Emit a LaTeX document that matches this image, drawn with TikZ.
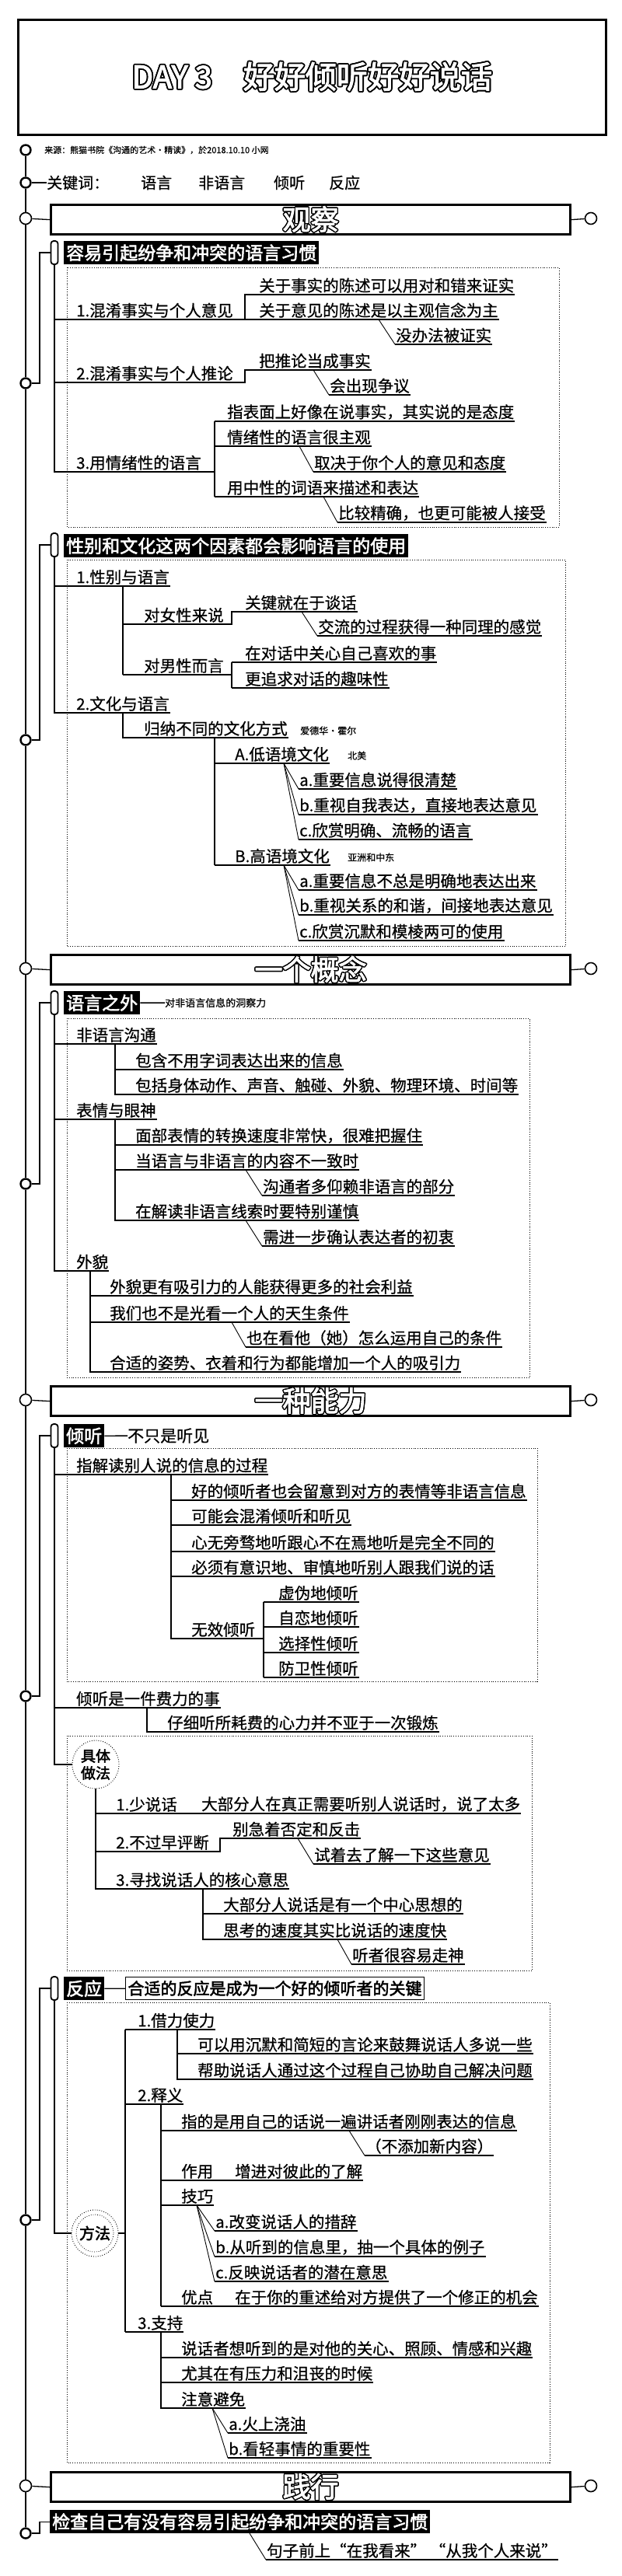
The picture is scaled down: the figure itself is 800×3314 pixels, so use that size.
\documentclass[tikz,border=0pt]{standalone}
\usepackage{fontspec}
\setmainfont{Noto Sans CJK SC}[FakeBold=0.6]
\newfontfamily\hvy{Noto Sans CJK SC}[FakeBold=2.5]
\usepackage{contour}
\contourlength{1.4pt}
\usetikzlibrary{shapes.geometric}
\tikzset{
  itm/.style={font=\fontsize{20.5}{24}\selectfont, anchor=south west, inner xsep=1pt, inner ysep=2pt},
  memo/.style={font=\fontsize{12}{14}\selectfont, anchor=west, inner sep=0pt},
  kw/.style={font=\fontsize{20}{24}\selectfont, anchor=west, inner sep=0pt},
  link/.style={line width=1.3pt},
  ul/.style={line width=1.4pt},
  ulb/.style={line width=2.8pt},
  slant/.style={line width=0.9pt},
  spine/.style={line width=2.8pt},
  dotframe/.style={dotted, line width=0.8pt},
  ring/.style={circle, draw, line width=2.4pt, minimum size=13pt, inner sep=0pt, fill=white},
  secring/.style={circle, draw, line width=1.6pt, minimum size=15pt, inner sep=0pt, fill=white,
    path picture={\fill (path picture bounding box.center) circle (2.8pt);}},
  secbox/.style={draw, line width=3.2pt, minimum width=668pt, minimum height=38pt, anchor=north west,
    inner sep=0pt, text=white, font={\hvy\fontsize{36}{38}\selectfont}},
  capsule/.style={draw, rounded corners=3.5pt, line width=1.8pt, minimum width=9pt, minimum height=30pt, inner sep=0pt, fill=white},
  hbar/.style={fill=black, text=white, anchor=north west, inner xsep=3pt, inner ysep=0pt, minimum height=30pt,
    font={\hvy\fontsize{23}{26}\selectfont}},
  keybox/.style={draw, line width=1pt, anchor=north west, inner xsep=3pt, inner ysep=0pt, minimum height=29pt,
    font={\hvy\fontsize{21}{24}\selectfont}},
  oval/.style={ellipse, draw, dotted, line width=0.9pt, minimum width=60pt, minimum height=62pt, inner sep=0pt,
    align=center, font={\hvy\fontsize{19}{22}\selectfont}},
  ripple/.style={circle, draw, dotted, line width=0.9pt, minimum size=60pt, inner sep=0pt, font={\hvy\fontsize{20}{24}\selectfont}}
}
\begin{document}
\begin{tikzpicture}[x=1pt,y=-1pt]
\useasboundingbox (0,0) rectangle (800,3314);
\fill[white] (0,0) rectangle (800,3314);

\node[draw, line width=2.6pt, minimum width=756pt, minimum height=148pt, anchor=north west, inner sep=0pt, text=white,
  font={\hvy\fontsize{40}{44}\selectfont}] (title) at (22,24) {\contourlength{1.8pt}\contour{black}{DAY 3\quad 好好倾听好好说话}};

\node[ring] (r0) at (33,193) {};
\node[memo, font=\fontsize{11}{13}\selectfont] (src) at (57,193) {来源：熊猫书院《沟通的艺术·精读》，於2018.10.10 小网};
\node[ring] (r1) at (33,235) {};
\node[kw] (kw) at (60,235) {关键词：};
\node[kw] (kw1) at (181,235) {语言};
\node[kw] (kw2) at (255,235) {非语言};
\node[kw] (kw3) at (352,235) {倾听};
\node[kw] (kw4) at (423,235) {反应};
\draw[link] (r1) -- (kw);

\node[secbox] (s1) at (64,262) {\contour{black}{观察}};
\node[secring] (sr1) at (33,281) {};
\node[secring] (sr1b) at (760,281) {};
\draw[link] (sr1) -- (s1.west);
\draw[link] (s1.east) -- (sr1b);

\node[capsule] (cA) at (70,325) {};
\node[hbar] (hA) at (82,310) {容易引起纷争和冲突的语言习惯};
\node[ring] (rA) at (33,493) {};
\coordinate (kA) at (51,493);
\draw[link] (rA) -- (kA) |- (cA);
\draw[dotframe] (86,344) rectangle (719,678);
\node[itm] (A1) at (97,411) {1.混淆事实与个人意见};
\coordinate (A1t) at (315,411);
\node[itm] (A11) at (332,379) {关于事实的陈述可以用对和错来证实};
\node[itm] (A12) at (332,411) {关于意见的陈述是以主观信念为主};
\coordinate (A12s) at (487,411);
\node[itm] (A121) at (508,443) {没办法被证实};
\draw[ul] (A1.south -| cA.south) -- (A1t) |- (A11.south east);
\draw[ul] (A1t) -- (A12.south east);
\draw[slant] (A12s) -- (A121.south west);
\draw[ul] (A121.south west) -- (A121.south east);
\node[itm] (A2) at (97,492) {2.混淆事实与个人推论};
\coordinate (A2t) at (315,492);
\node[itm] (A21) at (332,476) {把推论当成事实};
\coordinate (A21s) at (403,476);
\node[itm] (A211) at (423,508) {会出现争议};
\draw[ul] (A2.south -| cA.south) -- (A2t) |- (A21.south east);
\draw[slant] (A21s) -- (A211.south west);
\draw[ul] (A211.south west) -- (A211.south east);
\node[itm] (A3) at (97,607) {3.用情绪性的语言};
\coordinate (A3t) at (276,607);
\node[itm] (A31) at (291,542) {指表面上好像在说事实，其实说的是态度};
\node[itm] (A32) at (291,574) {情绪性的语言很主观};
\node[itm] (A33) at (291,639) {用中性的词语来描述和表达};
\coordinate (A32s) at (385,574);
\node[itm] (A321) at (403,607) {取决于你个人的意见和态度};
\coordinate (A33s) at (416,639);
\node[itm] (A331) at (434,672) {比较精确，也更可能被人接受};
\draw[ul] (cA) -- (A3.south -| cA.south) -- (A3t);
\draw[ul] (A31.south -| A3t) -- (A33.south -| A3t);
\draw[ul] (A31.south -| A3t) -- (A31.south east);
\draw[ul] (A32.south -| A3t) -- (A32.south east);
\draw[ulb] (A33.south -| A3t) -- (A33.south east);
\draw[slant] (A32s) -- (A321.south west);
\draw[ul] (A321.south west) -- (A321.south east);
\draw[slant] (A33s) -- (A331.south west);
\draw[ul] (A331.south west) -- (A331.south east);

\node[capsule] (cB) at (70,701) {};
\node[hbar] (hB) at (82,687) {性别和文化这两个因素都会影响语言的使用};
\node[ring] (rB) at (33,952) {};
\coordinate (kB) at (51,952);
\draw[link] (rB) -- (kB) |- (cB);
\draw[dotframe] (86,720) rectangle (727,1217);
\node[itm] (B1) at (97,754) {1.性别与语言};
\coordinate (B1t) at (158,754);
\node[itm] (B11) at (184,803) {对女性来说};
\coordinate (B11t) at (298,803);
\node[itm] (B111) at (314,787) {关键就在于谈话};
\coordinate (B111s) at (388,787);
\node[itm] (B1111) at (408,818) {交流的过程获得一种同理的感觉};
\node[itm] (B12) at (184,868) {对男性而言};
\coordinate (B12t) at (298,868);
\node[itm] (B121) at (314,852) {在对话中关心自己喜欢的事};
\node[itm] (B122) at (314,885) {更追求对话的趣味性};
\draw[ul] (B1.south -| cB.south) -- (B1.south east);
\draw[ul] (B1t) -- (B12.south -| B1t);
\draw[ul] (B11.south -| B1t) -- (B11t) |- (B111.south east);
\draw[slant] (B111s) -- (B1111.south west);
\draw[ul] (B1111.south west) -- (B1111.south east);
\draw[ul] (B12.south -| B1t) -- (B12t);
\draw[ul] (B121.south -| B12t) -- (B122.south -| B12t);
\draw[ul] (B121.south -| B12t) -- (B121.south east);
\draw[ul] (B122.south -| B12t) -- (B122.south east);
\node[itm] (B2) at (97,917) {2.文化与语言};
\coordinate (B2t) at (158,917);
\node[itm] (B21) at (184,949) {归纳不同的文化方式};
\node[memo] (B21n) at (386,940) {爱德华·霍尔};
\coordinate (B21t) at (276,949);
\node[itm] (B211) at (301,982) {A.低语境文化};
\node[memo] (B211n) at (447,972) {北美};
\coordinate (B211s) at (365,982);
\node[itm] (B2111) at (384,1015) {a.重要信息说得很清楚};
\node[itm] (B2112) at (384,1048) {b.重视自我表达，直接地表达意见};
\node[itm] (B2113) at (384,1080) {c.欣赏明确、流畅的语言};
\node[itm] (B212) at (301,1113) {B.高语境文化};
\node[memo] (B212n) at (447,1103) {亚洲和中东};
\coordinate (B212s) at (365,1113);
\node[itm] (B2121) at (384,1145) {a.重要信息不总是明确地表达出来};
\node[itm] (B2122) at (384,1177) {b.重视关系的和谐，间接地表达意见};
\node[itm] (B2123) at (384,1210) {c.欣赏沉默和模棱两可的使用};
\draw[ul] (cB) -- (B2.south -| cB.south) -- (B2.south east);
\draw[ul] (B2t) |- (B21.south east);
\draw[ul] (B21t) -- (B212.south -| B21t);
\draw[ulb] (B211.south -| B21t) -- (B211.south east);
\draw[ulb] (B212.south -| B21t) -- (B212.south east);
\foreach \n in {B2111,B2112,B2113}{
  \draw[slant] (B211s) -- (\n.south west);
  \draw[ul] (\n.south west) -- (\n.south east);
}
\foreach \n in {B2121,B2122,B2123}{
  \draw[slant] (B212s) -- (\n.south west);
  \draw[ul] (\n.south west) -- (\n.south east);
}

\node[secbox] (s2) at (64,1227) {\contour{black}{一个概念}};
\node[secring] (sr2) at (33,1246) {};
\node[secring] (sr2b) at (760,1246) {};
\draw[link] (sr2) -- (s2.west);
\draw[link] (s2.east) -- (sr2b);

\node[capsule] (cC) at (70,1290) {};
\node[hbar] (hC) at (82,1275) {语言之外};
\node[memo, font=\fontsize{13}{15}\selectfont] (hCn) at (212,1290) {对非语言信息的洞察力};
\draw[link] (hC) -- (hCn);
\node[ring] (rC) at (33,1523) {};
\coordinate (kC) at (51,1523);
\draw[link] (rC) -- (kC) |- (cC);
\draw[dotframe] (86,1310) rectangle (681,1772);
\node[itm] (C1) at (97,1343) {非语言沟通};
\coordinate (C1t) at (148,1343);
\node[itm] (C11) at (173,1376) {包含不用字词表达出来的信息};
\node[itm] (C12) at (173,1408) {包括身体动作、声音、触碰、外貌、物理环境、时间等};
\draw[ul] (C1.south -| cC.south) -- (C1.south east);
\draw[ul] (C1t) |- (C12.south east);
\draw[ul] (C11.south -| C1t) -- (C11.south east);
\node[itm] (C2) at (97,1440) {表情与眼神};
\coordinate (C2t) at (148,1440);
\node[itm] (C21) at (173,1473) {面部表情的转换速度非常快，很难把握住};
\node[itm] (C22) at (173,1505) {当语言与非语言的内容不一致时};
\coordinate (C22s) at (316,1505);
\node[itm] (C221) at (337,1538) {沟通者多仰赖非语言的部分};
\node[itm] (C23) at (173,1570) {在解读非语言线索时要特别谨慎};
\coordinate (C23s) at (316,1570);
\node[itm] (C231) at (337,1603) {需进一步确认表达者的初衷};
\draw[ul] (C2.south -| cC.south) -- (C2.south east);
\draw[ul] (C2t) |- (C23.south east);
\draw[ul] (C21.south -| C2t) -- (C21.south east);
\draw[ul] (C22.south -| C2t) -- (C22.south east);
\draw[slant] (C22s) -- (C221.south west);
\draw[ul] (C221.south west) -- (C221.south east);
\draw[slant] (C23s) -- (C231.south west);
\draw[ul] (C231.south west) -- (C231.south east);
\node[itm] (C3) at (97,1635) {外貌};
\coordinate (C3t) at (116,1635);
\node[itm] (C31) at (140,1667) {外貌更有吸引力的人能获得更多的社会利益};
\node[itm] (C32) at (140,1701) {我们也不是光看一个人的天生条件};
\coordinate (C32s) at (298,1701);
\node[itm] (C321) at (316,1733) {也在看他（她）怎么运用自己的条件};
\node[itm] (C33) at (140,1765) {合适的姿势、衣着和行为都能增加一个人的吸引力};
\draw[ul] (cC) -- (C3.south -| cC.south) -- (C3.south east);
\draw[ul] (C3t) |- (C33.south east);
\draw[ul] (C31.south -| C3t) -- (C31.south east);
\draw[ul] (C32.south -| C3t) -- (C32.south east);
\draw[slant] (C32s) -- (C321.south west);
\draw[ul] (C321.south west) -- (C321.south east);

\node[secbox] (s3) at (64,1782) {\contour{black}{一种能力}};
\node[secring] (sr3) at (33,1801) {};
\node[secring] (sr3b) at (760,1801) {};
\draw[link] (sr3) -- (s3.west);
\draw[link] (s3.east) -- (sr3b);

\node[capsule] (cD) at (70,1847) {};
\node[hbar] (hD) at (82,1832) {倾听};
\node[kw, font=\fontsize{21}{24}\selectfont] (hDn) at (164,1847) {不只是听见};
\draw[link] (hD) -- (hDn);
\node[ring] (rD) at (33,2182) {};
\coordinate (kD) at (51,2182);
\draw[link] (rD) -- (kD) |- (cD);
\draw[dotframe] (86,1863) rectangle (691,2163);
\node[itm] (D1) at (97,1897) {指解读别人说的信息的过程};
\coordinate (D1t) at (220,1897);
\node[itm] (D11) at (245,1930) {好的倾听者也会留意到对方的表情等非语言信息};
\node[itm] (D12) at (245,1962) {可能会混淆倾听和听见};
\node[itm] (D13) at (245,1996) {心无旁骛地听跟心不在焉地听是完全不同的};
\node[itm] (D14) at (245,2028) {必须有意识地、审慎地听别人跟我们说的话};
\node[itm] (D15) at (245,2108) {无效倾听};
\coordinate (D15t) at (339,2108);
\node[itm] (D151) at (357,2061) {虚伪地倾听};
\node[itm] (D152) at (357,2093) {自恋地倾听};
\node[itm] (D153) at (357,2126) {选择性倾听};
\node[itm] (D154) at (357,2158) {防卫性倾听};
\draw[ul] (D1.south -| cD.south) -- (D1.south east);
\draw[ul] (D1t) -- (D15.south -| D1t) -- (D15t);
\foreach \n in {D11,D12,D14}
  \draw[ul] (\n.south -| D1t) -- (\n.south east);
\draw[ulb] (D13.south -| D1t) -- (D13.south east);
\draw[ul] (D151.south -| D15t) -- (D154.south -| D15t);
\foreach \n in {D151,D152,D153,D154}
  \draw[ul] (\n.south -| D15t) -- (\n.south east);
\node[itm] (D2) at (97,2197) {倾听是一件费力的事};
\coordinate (D2t) at (189,2197);
\node[itm] (D21) at (214,2228) {仔细听所耗费的心力并不亚于一次锻炼};
\draw[ul] (D2.south -| cD.south) -- (D2.south east);
\draw[ul] (D2t) |- (D21.south east);
\draw[dotframe] (86,2233) rectangle (684,2535);
\node[oval] (D3) at (123,2270) {具体\\做法};
\draw[link] (cD) |- (D3);
\node[itm] (D31) at (148,2333) {1.少说话};
\node[itm] (D31b) at (258,2333) {大部分人在真正需要听别人说话时，说了太多};
\node[itm] (D32) at (148,2382) {2.不过早评断};
\coordinate (D32t) at (283,2382);
\node[itm] (D321) at (298,2365) {别急着否定和反击};
\coordinate (D321s) at (383,2365);
\node[itm] (D3211) at (403,2398) {试着去了解一下这些意见};
\node[itm] (D33) at (148,2430) {3.寻找说话人的核心意思};
\coordinate (D33t) at (261,2430);
\node[itm] (D331) at (286,2462) {大部分人说话是有一个中心思想的};
\node[itm] (D332) at (286,2495) {思考的速度其实比说话的速度快};
\coordinate (D332s) at (434,2495);
\node[itm] (D3321) at (452,2527) {听者很容易走神};
\draw[ul] (D3) -- (D33.south -| D3.south) -- (D33.south east);
\draw[ul] (D31.south -| D3.south) -- (D31b.south east);
\draw[ul] (D32.south -| D3.south) -- (D32t) |- (D321.south east);
\draw[slant] (D321s) -- (D3211.south west);
\draw[ul] (D3211.south west) -- (D3211.south east);
\draw[ul] (D33t) |- (D332.south east);
\draw[ul] (D331.south -| D33t) -- (D331.south east);
\draw[slant] (D332s) -- (D3321.south west);
\draw[ul] (D3321.south west) -- (D3321.south east);

\node[capsule] (cE) at (70,2558) {};
\node[hbar] (hE) at (82,2543) {反应};
\node[keybox] (hEn) at (161,2543) {合适的反应是成为一个好的倾听者的关键};
\draw[link] (hE) -- (hEn);
\node[ring] (rE) at (33,2856) {};
\coordinate (kE) at (51,2856);
\draw[link] (rE) -- (kE) |- (cE);
\draw[dotframe] (86,2576) rectangle (707,3168);
\node[ripple] (E0) at (122,2873) {方法};
\draw[dotted, line width=0.8pt] (E0.center) circle (24pt);
\draw[link] (cE) |- (E0);
\coordinate (E0t) at (161,2873);
\draw[link] (E0) -- (E0t);
\node[itm] (E1) at (176,2611) {1.借力使力};
\coordinate (E1t) at (228,2611);
\node[itm] (E11) at (253,2642) {可以用沉默和简短的言论来鼓舞说话人多说一些};
\node[itm] (E12) at (253,2675) {帮助说话人通过这个过程自己协助自己解决问题};
\node[itm] (E2) at (176,2707) {2.释义};
\coordinate (E2t) at (207,2707);
\node[itm] (E21) at (232,2741) {指的是用自己的话说一遍讲话者刚刚表达的信息};
\coordinate (E21s) at (449,2741);
\node[itm] (E211) at (469,2773) {（不添加新内容）};
\node[itm] (E22) at (232,2805) {作用};
\node[itm] (E22b) at (301,2805) {增进对彼此的了解};
\node[itm] (E23) at (232,2837) {技巧};
\coordinate (E23s) at (253,2837);
\node[itm] (E231) at (276,2870) {a.改变说话人的措辞};
\node[itm] (E232) at (276,2903) {b.从听到的信息里，抽一个具体的例子};
\node[itm] (E233) at (276,2935) {c.反映说话者的潜在意思};
\node[itm] (E24) at (232,2967) {优点};
\node[itm] (E24b) at (301,2967) {在于你的重述给对方提供了一个修正的机会};
\node[itm] (E3) at (176,3000) {3.支持};
\coordinate (E3t) at (207,3000);
\node[itm] (E31) at (232,3033) {说话者想听到的是对他的关心、照顾、情感和兴趣};
\node[itm] (E32) at (232,3065) {尤其在有压力和沮丧的时候};
\node[itm] (E33) at (232,3098) {注意避免};
\coordinate (E33s) at (273,3098);
\node[itm] (E331) at (293,3130) {a.火上浇油};
\node[itm] (E332) at (293,3162) {b.看轻事情的重要性};
\draw[ul] (E1.south -| E0t) -- (E3.south -| E0t);
\draw[ul] (E1.south -| E0t) -- (E1.south east);
\draw[ul] (E1t) |- (E12.south east);
\draw[ul] (E11.south -| E1t) -- (E11.south east);
\draw[ul] (E2.south -| E0t) -- (E2.south east);
\draw[ul] (E2t) -- (E24.south -| E2t);
\draw[ul] (E21.south -| E2t) -- (E21.south east);
\draw[slant] (E21s) -- (E211.south west);
\draw[ul] (E211.south west) -- (E211.south east);
\draw[ul] (E22.south -| E2t) -- (E22b.south east);
\draw[ul] (E23.south -| E2t) -- (E23.south east);
\foreach \n in {E231,E232,E233}{
  \draw[slant] (E23s) -- (\n.south west);
  \draw[ul] (\n.south west) -- (\n.south east);
}
\draw[ul] (E24.south -| E2t) -- (E24b.south east);
\draw[ul] (E3.south -| E0t) -- (E3.south east);
\draw[ul] (E3t) |- (E33.south east);
\draw[ul] (E31.south -| E3t) -- (E31.south east);
\draw[ul] (E32.south -| E3t) -- (E32.south east);
\foreach \n in {E331,E332}{
  \draw[slant] (E33s) -- (\n.south west);
  \draw[ul] (\n.south west) -- (\n.south east);
}

\node[secbox] (s4) at (64,3179) {\contour{black}{践行}};
\node[secring] (sr4) at (33,3198) {};
\node[secring] (sr4b) at (760,3198) {};
\draw[link] (sr4) -- (s4.west);
\draw[link] (s4.east) -- (sr4b);

\node[hbar] (hF) at (64,3229) {检查自己有没有容易引起纷争和冲突的语言习惯};
\node[ring] (rF) at (33,3259) {};
\coordinate (kF) at (51,3259);
\draw[link] (rF) -- (kF) |- (hF);
\coordinate (hFs) at (321,3259);
\node[itm] (F1) at (342,3293) {句子前上“在我看来”\ “从我个人来说”};
\draw[slant] (hFs) -- (F1.south west);
\draw[ul] (F1.south west) -- (F1.south east);

\draw[spine] (r0) -- (r1) -- (sr1) -- (rA) -- (rB) -- (sr2) -- (rC) -- (sr3) -- (rD) -- (rE) -- (sr4) -- (rF);
\end{tikzpicture}
\end{document}
